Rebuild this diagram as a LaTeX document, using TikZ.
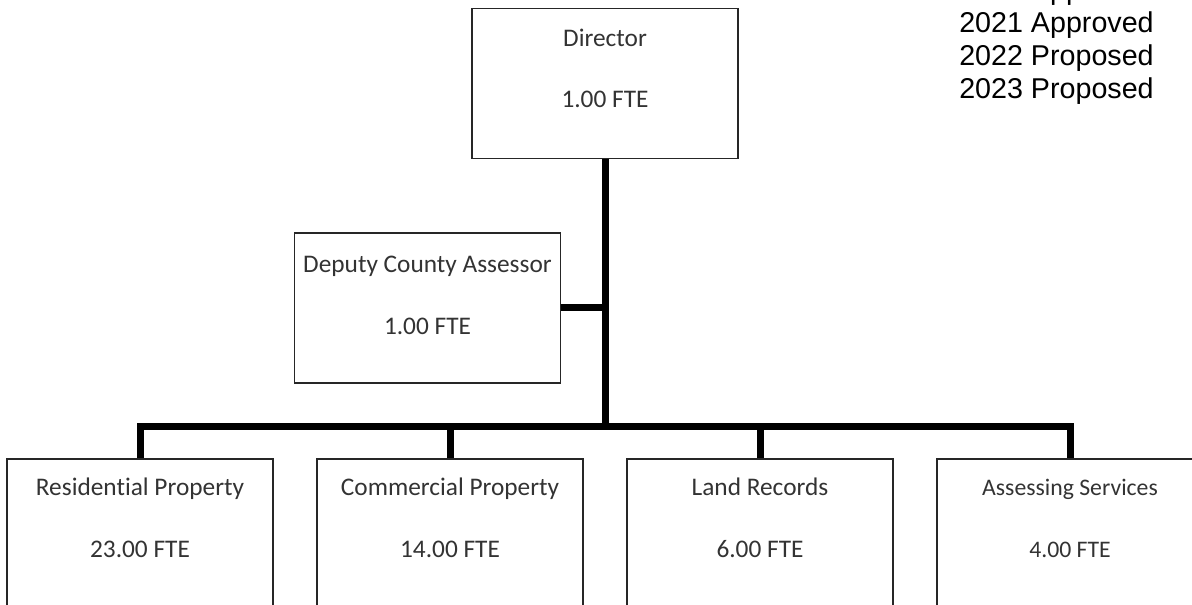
\documentclass[tikz,border=0pt]{standalone}
\usepackage{fontspec}
\setmainfont{Carlito}[Ligatures=NoCommon]
\newfontfamily\yearfont{Liberation Sans}
\usetikzlibrary{positioning,calc}

\begin{document}
\begin{tikzpicture}[
  x=0.75pt, y=-0.75pt,
  box/.style={draw=black!85, line width=1.1pt, fill=white,
              minimum width=199.5pt, minimum height=112.5pt, inner sep=0pt},
  lowbox/.style={box, minimum height=135pt},
  txt/.style={font=\fontsize{19}{23}\selectfont, text=black!80, inner sep=0pt, anchor=base},
  smalltxt/.style={txt, font=\fontsize{17.8}{21}\selectfont},
  yr/.style={font=\yearfont\fontsize{21.5}{25}\selectfont, inner sep=0pt, anchor=base west},
  link/.style={line width=5.25pt, black, line join=miter}
]

\useasboundingbox (0,0) rectangle (1192,605);
\clip (0,0) rectangle (1192,605);

% boxes
\node[box] (dir) at (605,83.5) {};
\node[box] (dep) at (427.5,308) {};
\node[lowbox] (res) at (140,549) {};
\node[lowbox] (com) at (450,549) {};
\node[lowbox] (land) at (760,549) {};
\node[lowbox] (asv) at (1070,549) {};

% box texts
\node[txt] (dirT) at ($(dir.north)+(0,39)$) {Director};
\node[txt] (dirF) at ($(dir.north)+(0,100)$) {1.00 FTE};
\node[txt] (depT) at ($(dep.north)+(0,40)$) {Deputy County Assessor};
\node[txt] (depF) at ($(dep.north)+(0,102)$) {1.00 FTE};
\node[txt] (resT) at ($(res.north)+(0,37)$) {Residential Property};
\node[txt] (resF) at ($(res.north)+(0,99)$) {23.00 FTE};
\node[txt] (comT) at ($(com.north)+(0,37)$) {Commercial Property};
\node[txt] (comF) at ($(com.north)+(0,99)$) {14.00 FTE};
\node[txt] (landT) at ($(land.north)+(0,37)$) {Land Records};
\node[txt] (landF) at ($(land.north)+(0,99)$) {6.00 FTE};
\node[smalltxt] (asvT) at ($(asv.north)+(0,37)$) {Assessing Services};
\node[smalltxt] (asvF) at ($(asv.north)+(0,99)$) {4.00 FTE};

% connectors
\coordinate (bus) at (605,427);
\draw[link] (dir.south) -- (bus);
\draw[link] (dep.east) -- (dep.east -| bus);
\draw[link] (res.north) |- (bus) -| (asv.north);
\draw[link] (com.north) -- (com.north |- bus);
\draw[link] (land.north) -- (land.north |- bus);

% budget years
\foreach \yy/\st [count=\i] in {2020/Approved,2021/Approved,2022/Proposed,2023/Proposed}
  \node[yr] (yr\i) at (959,{33*(\i-1)}) {\yy{} \st};

\end{tikzpicture}
\end{document}
